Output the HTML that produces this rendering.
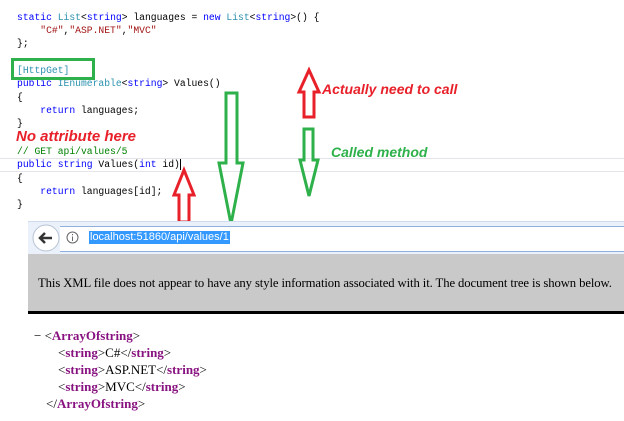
<!DOCTYPE html>
<html><head><style>
body{margin:0;width:624px;height:421px;background:#fff;position:relative;overflow:hidden}
.c{position:absolute;left:17px;font-family:"Liberation Mono","DejaVu Sans Mono",monospace;font-size:9.7px;color:#000;white-space:pre;line-height:13px}
.k{color:#0000ff}.t{color:#2b91af}.s{color:#a31515}.g{color:#008000}
.a{position:absolute;font-family:"Liberation Sans",sans-serif;font-weight:bold;font-style:italic;font-size:14px}
.x{position:absolute;font-family:"Liberation Serif",serif;font-size:13px;color:#000;white-space:pre}
.p{color:#881280;font-weight:bold}
</style></head><body>
<div style="position:absolute;left:0;top:158px;width:624px;height:12px;border-top:1px solid #e4e4ea;border-bottom:1px solid #e4e4ea"></div>
<div class="c" style="top:11px"><span class="k">static</span> <span class="t">List</span>&lt;<span class="k">string</span>&gt; languages = <span class="k">new</span> <span class="t">List</span>&lt;<span class="k">string</span>&gt;() {</div>
<div class="c" style="top:24px">    <span class="s">"C#"</span>,<span class="s">"ASP.NET"</span>,<span class="s">"MVC"</span></div>
<div class="c" style="top:37px">};</div>
<div class="c" style="top:64px"><span class="t">[HttpGet]</span></div>
<div class="c" style="top:77px"><span class="k">public</span> <span class="t">IEnumerable</span>&lt;<span class="k">string</span>&gt; Values()</div>
<div class="c" style="top:91px">{</div>
<div class="c" style="top:104px">    <span class="k">return</span> languages;</div>
<div class="c" style="top:117px">}</div>
<div class="c" style="top:145px"><span class="g">// GET api/values/5</span></div>
<div class="c" style="top:158px"><span class="k">public</span> <span class="k">string</span> Values(<span class="k">int</span> id)<span style="border-left:1px solid #000"></span></div>
<div class="c" style="top:172px">{</div>
<div class="c" style="top:185px">    <span class="k">return</span> languages[id];</div>
<div class="c" style="top:198px">}</div>
<div style="position:absolute;left:11px;top:58px;width:78px;height:16px;border:3px solid #2eb14a"></div>
<div class="a" style="left:16px;top:128px;color:#e8202a;font-size:15px">No attribute here</div>
<div class="a" style="left:322px;top:81px;color:#e8202a">Actually need to call</div>
<div class="a" style="left:331px;top:144px;color:#2eb14a">Called method</div>
<svg style="position:absolute;left:0;top:0" width="624" height="421">
<g fill="none" stroke-width="3" stroke-linejoin="miter">
<polygon points="226,93 237,93 237,163 243,163 231,224 219,163 226,163" stroke="#2eb14a"/>
<polygon points="309,70 319,92 314,92 314,117 304,117 304,92 299,92" stroke="#e8202a"/>
<polygon points="304,129 313,129 313,160 318,160 309,196 300,160 304,160" stroke="#2eb14a"/>
<polygon points="184,170 194,195 189,195 189,222 179,222 179,195 174,195" stroke="#e8202a"/>
</g></svg>
<div style="position:absolute;left:28px;top:221px;width:596px;height:33px;background:#eaf1fb;border-top:1px solid #cfdcee"></div>
<div style="position:absolute;left:60px;top:226px;width:564px;height:24px;background:#fff;border-top:1px solid #8fb0dc;border-bottom:1px solid #8fb0dc"></div>
<svg style="position:absolute;left:31px;top:223px" width="30" height="30">
<circle cx="15" cy="15" r="13" fill="#fff" stroke="#b7c3d3"/>
<path d="M9 15 H21 M14 10 L9 15 L14 20" fill="none" stroke="#333" stroke-width="2.5"/>
</svg>
<svg style="position:absolute;left:66px;top:231px" width="13" height="13">
<circle cx="6.5" cy="6.5" r="5.5" fill="none" stroke="#666"/><path d="M6.5 5.5V10M6.5 3v1.2" stroke="#666"/>
</svg>
<div style="position:absolute;left:89px;top:231px;background:#3399ff;color:#fff;font:11px 'Liberation Sans',sans-serif;padding:0 1px;line-height:13px">localhost:51860/api/values/1</div>
<div style="position:absolute;left:28px;top:254px;width:596px;height:57px;background:#c9c9c9"></div>
<div style="position:absolute;left:28px;top:311px;width:596px;height:3px;background:#000"></div>
<div class="x" style="left:38px;top:276px;font-size:12.7px;letter-spacing:-0.1px">This XML file does not appear to have any style information associated with it. The document tree is shown below.</div>
<div class="x" style="left:34px;top:328px">− &lt;<span class="p">ArrayOfstring</span>&gt;</div>
<div class="x" style="left:58px;top:345px">&lt;<span class="p">string</span>&gt;C#&lt;/<span class="p">string</span>&gt;</div>
<div class="x" style="left:58px;top:362px">&lt;<span class="p">string</span>&gt;ASP.NET&lt;/<span class="p">string</span>&gt;</div>
<div class="x" style="left:58px;top:379px">&lt;<span class="p">string</span>&gt;MVC&lt;/<span class="p">string</span>&gt;</div>
<div class="x" style="left:46px;top:396px">&lt;/<span class="p">ArrayOfstring</span>&gt;</div>
</body></html>
